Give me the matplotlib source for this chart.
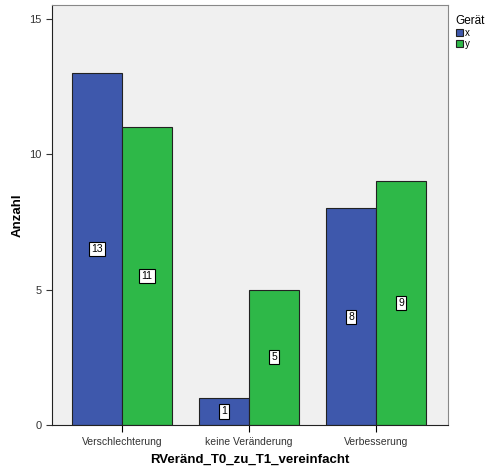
import matplotlib.pyplot as plt
import numpy as np

plt.rcParams['font.family'] = ['Liberation Sans', 'DejaVu Sans']

categories = ['Verschlechterung', 'keine Veränderung', 'Verbesserung']
series_names = ['x', 'y']
counts_x = [13, 1, 8]
counts_y = [11, 5, 9]
colors = ['#3e58ac', '#2eb848']

fig = plt.figure(figsize=(4.87, 4.75), dpi=100)
ax = fig.add_axes([52/487, 50/475, 396/487, 420/475])
ax.set_facecolor('#f0f0f0')

pos = np.arange(len(categories))
w = 0.394
for i, (vals, name) in enumerate(zip([counts_x, counts_y], series_names)):
    xs = pos - w/2 + i*w
    ax.bar(xs, vals, width=w, color=colors[i], edgecolor='#222222', linewidth=0.8, label=name)
    for x, v in zip(xs, vals):
        ax.text(x, v/2, str(v), ha='center', va='center', fontsize=7.5,
                bbox=dict(boxstyle='square,pad=0.2', fc='white', ec='black', lw=0.8))

ax.set_xlim(-0.551, 2.567)
ax.set_ylim(0, 15.5)
ax.set_yticks([0, 5, 10, 15])
ax.set_xticks(pos)
ax.set_xticklabels(categories, fontsize=7.5, color='#333333')
ax.tick_params(axis='y', labelsize=8, colors='#333333', length=4)
ax.tick_params(axis='x', length=5)
for s in ['top', 'right']:
    ax.spines[s].set_color('#888888')
for s in ['left', 'bottom']:
    ax.spines[s].set_color('#222222')
# y label placed by hand, like the original
fig.text(18/487, 1 - 215/475, 'Anzahl', rotation=90, ha='center', va='center',
         fontsize=9.5, fontweight='bold')
ax.set_xlabel('RVeränd_T0_zu_T1_vereinfacht', fontsize=9.5, fontweight='bold', labelpad=5)

leg = fig.legend(loc='upper left', bbox_to_anchor=(449/487, 1 - 8/475), title='Gerät',
                 frameon=False, fontsize=7, title_fontsize=8.5, handlelength=0.7,
                 handleheight=0.7, handletextpad=0.2, labelspacing=0.1, borderpad=0.2)
leg._legend_box.align = 'left'
leg._legend_box.sep = 1
for h in leg.legend_handles:
    h.set_edgecolor('#222222')

fig.savefig('out.png', dpi=100)
